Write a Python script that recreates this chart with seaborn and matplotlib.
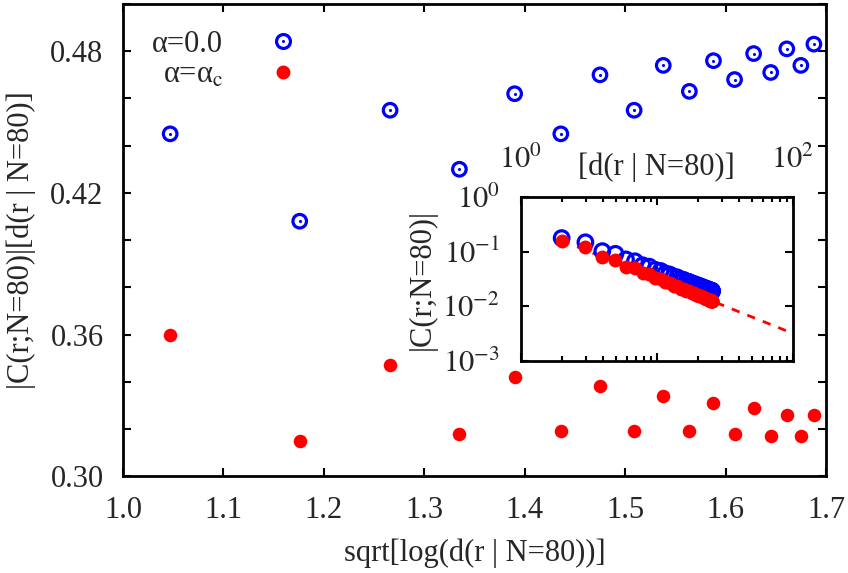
import numpy as np
import seaborn as sns
import matplotlib.pyplot as plt
from matplotlib.lines import Line2D
from matplotlib.legend_handler import HandlerTuple
from matplotlib.ticker import MultipleLocator, FixedLocator, FixedFormatter, LogLocator, NullLocator, NullFormatter


# main panel: x = sqrt[log(d)], y = |C| d, for r = 3..19
x_main = [1.047, 1.176, 1.266, 1.335, 1.390, 1.436, 1.475, 1.509, 1.538,
          1.564, 1.588, 1.609, 1.628, 1.645, 1.661, 1.675, 1.688]
y_alpha0 = [0.445, 0.408, 0.455, 0.430, 0.462, 0.445, 0.470, 0.455, 0.474,
            0.463, 0.476, 0.468, 0.479, 0.471, 0.481, 0.474, 0.483]
y_alphac = [0.360, 0.315, 0.347, 0.318, 0.342, 0.319, 0.338, 0.319, 0.334,
            0.319, 0.331, 0.318, 0.329, 0.317, 0.326, 0.317, 0.326]

# inset: |C(r;N=80)| vs d(r|N=80), r = 2..40
d_inset = [2.00, 2.99, 3.98, 4.97, 5.94, 6.91, 7.87, 8.81, 9.74, 10.66,
           11.56, 12.44, 13.30, 14.15, 14.97, 15.76, 16.53, 17.28, 18.01, 18.70,
           19.36, 20.00, 20.60, 21.17, 21.71, 22.22, 22.69, 23.12, 23.53, 23.89,
           24.22, 24.51, 24.76, 24.98, 25.15, 25.29, 25.39, 25.45, 25.46]
c_alpha0 = [0.178, 0.149, 0.1025, 0.0916, 0.0724, 0.0669, 0.0565, 0.0533, 0.0467, 0.0445,
            0.0401, 0.0383, 0.0352, 0.0339, 0.0315, 0.0305, 0.0287, 0.0280, 0.0265, 0.0259,
            0.0247, 0.0243, 0.0233, 0.0230, 0.0222, 0.0219, 0.0212, 0.0211, 0.0205, 0.0204,
            0.0199, 0.0199, 0.0195, 0.0195, 0.0192, 0.0193, 0.0190, 0.0192, 0.0190]
c_alphac = [0.158, 0.1204, 0.0791, 0.0698, 0.0535, 0.0495, 0.0405, 0.0384, 0.0328, 0.0313,
            0.0276, 0.0266, 0.0239, 0.0233, 0.0212, 0.0207, 0.0192, 0.0189, 0.0176, 0.0173,
            0.0164, 0.0162, 0.0154, 0.0153, 0.0146, 0.0145, 0.0140, 0.0139, 0.0135, 0.0135,
            0.0131, 0.0131, 0.0128, 0.0129, 0.0126, 0.0127, 0.0125, 0.0126, 0.0125]
# power-law fit (dashed)
d_fit = [2.0, 100.0]
c_fit = [0.16, 0.0032]

sns.set_theme(style="ticks")
plt.rcParams['font.family'] = ['Liberation Serif', 'DejaVu Serif']
plt.rcParams['mathtext.fontset'] = 'stix'
plt.rcParams['axes.linewidth'] = 2.0
plt.rcParams['xtick.direction'] = 'in'
plt.rcParams['ytick.direction'] = 'in'

FS = 22
fig = plt.figure(figsize=(8.48, 5.73), dpi=100)
ax = fig.add_axes([0.145, 0.169, 0.829, 0.824])

sns.scatterplot(x=x_main, y=y_alpha0, ax=ax, marker='o', s=95, facecolors='none',
                edgecolor='blue', linewidth=2.3, zorder=3)
sns.scatterplot(x=x_main, y=y_alpha0, ax=ax, marker='o', s=5, color='blue',
                edgecolor='blue', linewidth=0, zorder=4)
sns.scatterplot(x=x_main, y=y_alphac, ax=ax, marker='o', s=95, color='red',
                edgecolor='red', linewidth=0, zorder=3)

ax.set_xlim(1.0, 1.7)
ax.set_ylim(0.30, 0.50)
ax.xaxis.set_major_locator(MultipleLocator(0.1))
ax.yaxis.set_major_locator(FixedLocator([0.30, 0.36, 0.42, 0.48]))
ax.yaxis.set_major_formatter(FixedFormatter(['0.30', '0.36', '0.42', '0.48']))
ax.yaxis.set_minor_locator(MultipleLocator(0.02))
ax.xaxis.set_major_formatter(plt.FuncFormatter(lambda v, p: f"{v:.1f}"))
ax.tick_params(which='both', top=True, right=True, length=6, width=1.5,
               labelsize=FS, color='black')
ax.tick_params(axis='y', pad=14)
ax.tick_params(axis='x', pad=14)
for s in ax.spines.values():
    s.set_color('black')

ax.set_xlabel('sqrt[log(d(r | N=80))]', fontsize=FS, labelpad=10)
ax.set_ylabel('|C(r;N=80)|[d(r | N=80)]', fontsize=FS, labelpad=10)

h_circ = Line2D([], [], ls='', marker='o', ms=10, mfc='none', mec='blue', mew=2.3)
h_dot = Line2D([], [], ls='', marker='o', ms=2.2, mfc='blue', mec='blue', mew=0)
h_red = Line2D([], [], ls='', marker='o', ms=10, mfc='red', mec='red', mew=0)
ax.legend(handles=[(h_circ, h_dot), h_red],
          labels=['α=0.0', r'α=α$_{\mathrm{c}}$'],
          handler_map={tuple: HandlerTuple(ndivide=1, pad=0)},
          markerfirst=False, frameon=False, fontsize=FS, loc='upper right',
          bbox_to_anchor=(0.249, 0.946), handlelength=1.0, handletextpad=1.45,
          labelspacing=0.08, borderaxespad=0, borderpad=0)

# inset
ins = fig.add_axes([0.614, 0.370, 0.321, 0.286])
sns.lineplot(x=d_fit, y=c_fit, ax=ins, color='red', linestyle=(0, (3, 3)),
             linewidth=2, zorder=1)
sns.scatterplot(x=d_inset, y=c_alpha0, ax=ins, marker='o', s=110, facecolors='none',
                edgecolor='blue', linewidth=2.3, zorder=2)
sns.scatterplot(x=d_inset, y=c_alphac, ax=ins, marker='o', s=100, color='red',
                edgecolor='red', linewidth=0, zorder=3)
ins.set_xscale('log')
ins.set_yscale('log')
ins.set_xlim(1, 100)
ins.set_ylim(1e-3, 1)
ins.xaxis.set_major_locator(FixedLocator([1, 10, 100]))
ins.xaxis.set_major_formatter(FixedFormatter([r'$10^0$', '', r'$10^2$']))
ins.xaxis.set_minor_locator(LogLocator(base=10, subs=np.arange(2, 10)))
ins.xaxis.set_minor_formatter(NullFormatter())
ins.yaxis.set_major_locator(FixedLocator([1e-3, 1e-2, 1e-1, 1]))
ins.yaxis.set_major_formatter(FixedFormatter([r'$10^{-3}$', r'$10^{-2}$', r'$10^{-1}$', r'$10^0$']))
ins.yaxis.set_minor_locator(NullLocator())
ins.tick_params(which='both', top=True, right=True, bottom=True, left=True,
                labeltop=True, labelbottom=False, width=1.5, color='black', labelsize=FS)
ins.tick_params(which='major', length=6)
ins.tick_params(which='minor', length=3.5)
ins.tick_params(axis='x', pad=16)
ins.tick_params(axis='y', pad=15)
for s in ins.spines.values():
    s.set_color('black')
ins.text(0.5, 1.09, '[d(r | N=80)]', transform=ins.transAxes, ha='center',
         va='bottom', fontsize=FS)
ins.set_xlabel('')
ins.set_ylabel('|C(r;N=80)|', fontsize=FS, labelpad=4)

fig.savefig('out.png', dpi=100)
